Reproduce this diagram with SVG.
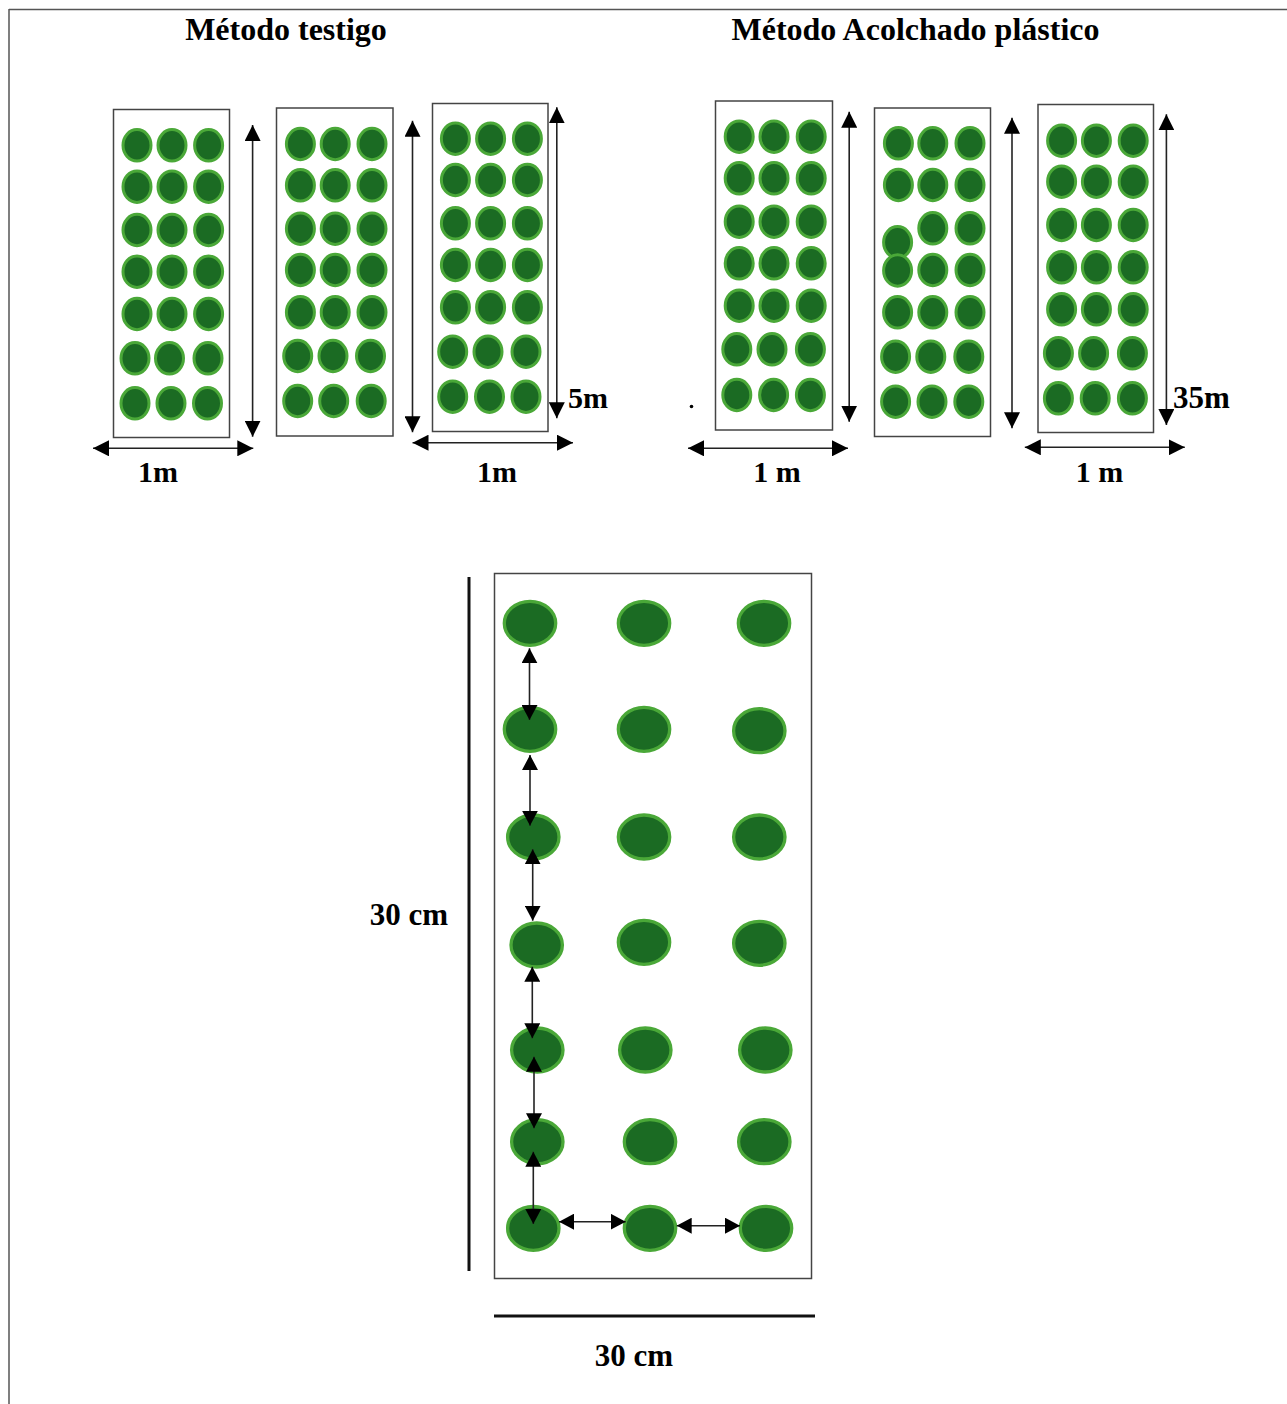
<svg xmlns="http://www.w3.org/2000/svg" xmlns:xlink="http://www.w3.org/1999/xlink" width="1287" height="1404" viewBox="0 0 1287 1404">
<style>
.t{font-family:"Liberation Serif","Times New Roman",serif;font-weight:bold;fill:#000}
.box{fill:#fff;stroke:#444;stroke-width:1.5}
.p{fill:#1b6b23;stroke:#4aa838;stroke-width:3}
.P{fill:#1b6b23;stroke:#4aa838;stroke-width:3.3}
.a{stroke:#222;stroke-width:1.6;fill:none;marker-start:url(#h);marker-end:url(#h)}
.b{stroke:#222;stroke-width:1.6;fill:none;marker-start:url(#hs);marker-end:url(#hs)}
.bar{stroke:#111;stroke-width:3;fill:none}
.frame{stroke:#555;stroke-width:1.5;fill:none}
</style>
<defs>
<marker id="h" viewBox="0 0 16 16" refX="16" refY="8" markerWidth="16" markerHeight="16" markerUnits="userSpaceOnUse" orient="auto-start-reverse"><path d="M0,0 L16,8 L0,16 z" fill="#000"/></marker>
<marker id="hs" viewBox="0 0 15 16" refX="15" refY="8" markerWidth="15" markerHeight="16" markerUnits="userSpaceOnUse" orient="auto-start-reverse"><path d="M0,0 L15,8 L0,16 z" fill="#000"/></marker>
</defs>
<rect width="1287" height="1404" fill="#fff"/>
<g id="frame">
<line class="frame" x1="9" y1="9.5" x2="1287" y2="9.5"/>
<line class="frame" x1="9" y1="9" x2="9" y2="1404"/>
</g>
<g id="titles">
<text class="t" x="286" y="40" font-size="32" text-anchor="middle">Método testigo</text>
<text class="t" x="915.5" y="40" font-size="32" text-anchor="middle">Método Acolchado plástico</text>
</g>
<g id="testigo-1">
<rect class="box" x="113.5" y="109.5" width="116" height="328"/>
<ellipse class="p" cx="137" cy="145.3" rx="14" ry="15.7"/><ellipse class="p" cx="172" cy="145.3" rx="14" ry="15.7"/><ellipse class="p" cx="208.6" cy="145.3" rx="14" ry="15.7"/>
<ellipse class="p" cx="137" cy="186.7" rx="14" ry="15.7"/><ellipse class="p" cx="172" cy="186.7" rx="14" ry="15.7"/><ellipse class="p" cx="208.6" cy="186.7" rx="14" ry="15.7"/>
<ellipse class="p" cx="137" cy="230" rx="14" ry="15.7"/><ellipse class="p" cx="172" cy="230" rx="14" ry="15.7"/><ellipse class="p" cx="208.6" cy="230" rx="14" ry="15.7"/>
<ellipse class="p" cx="137" cy="271.7" rx="14" ry="15.7"/><ellipse class="p" cx="172" cy="271.7" rx="14" ry="15.7"/><ellipse class="p" cx="208.6" cy="271.7" rx="14" ry="15.7"/>
<ellipse class="p" cx="137" cy="314" rx="14" ry="15.7"/><ellipse class="p" cx="172" cy="314" rx="14" ry="15.7"/><ellipse class="p" cx="208.6" cy="314" rx="14" ry="15.7"/>
<ellipse class="p" cx="135" cy="358.3" rx="14" ry="15.7"/><ellipse class="p" cx="169.5" cy="358.3" rx="14" ry="15.7"/><ellipse class="p" cx="208" cy="358.3" rx="14" ry="15.7"/>
<ellipse class="p" cx="135" cy="403.3" rx="14" ry="15.7"/><ellipse class="p" cx="171" cy="403.3" rx="14" ry="15.7"/><ellipse class="p" cx="207.5" cy="403.3" rx="14" ry="15.7"/>
</g>
<g id="testigo-2">
<rect class="box" x="276.5" y="108" width="116.5" height="328"/>
<ellipse class="p" cx="300.4" cy="144" rx="14" ry="15.7"/><ellipse class="p" cx="335.2" cy="144" rx="14" ry="15.7"/><ellipse class="p" cx="372" cy="144" rx="14" ry="15.7"/>
<ellipse class="p" cx="300.4" cy="185.3" rx="14" ry="15.7"/><ellipse class="p" cx="335.2" cy="185.3" rx="14" ry="15.7"/><ellipse class="p" cx="372" cy="185.3" rx="14" ry="15.7"/>
<ellipse class="p" cx="300.4" cy="228.7" rx="14" ry="15.7"/><ellipse class="p" cx="335.2" cy="228.7" rx="14" ry="15.7"/><ellipse class="p" cx="372" cy="228.7" rx="14" ry="15.7"/>
<ellipse class="p" cx="300.4" cy="270" rx="14" ry="15.7"/><ellipse class="p" cx="335.2" cy="270" rx="14" ry="15.7"/><ellipse class="p" cx="372" cy="270" rx="14" ry="15.7"/>
<ellipse class="p" cx="300.4" cy="312.3" rx="14" ry="15.7"/><ellipse class="p" cx="335.2" cy="312.3" rx="14" ry="15.7"/><ellipse class="p" cx="372" cy="312.3" rx="14" ry="15.7"/>
<ellipse class="p" cx="297.7" cy="356" rx="14" ry="15.7"/><ellipse class="p" cx="333" cy="356" rx="14" ry="15.7"/><ellipse class="p" cx="370.5" cy="356" rx="14" ry="15.7"/>
<ellipse class="p" cx="297.7" cy="401" rx="14" ry="15.7"/><ellipse class="p" cx="333.7" cy="401" rx="14" ry="15.7"/><ellipse class="p" cx="371.2" cy="401" rx="14" ry="15.7"/>
</g>
<g id="testigo-3">
<rect class="box" x="432.5" y="103.5" width="115.5" height="328"/>
<ellipse class="p" cx="455.4" cy="138.7" rx="14" ry="15.7"/><ellipse class="p" cx="490.6" cy="138.7" rx="14" ry="15.7"/><ellipse class="p" cx="527.4" cy="138.7" rx="14" ry="15.7"/>
<ellipse class="p" cx="455.4" cy="180" rx="14" ry="15.7"/><ellipse class="p" cx="490.6" cy="180" rx="14" ry="15.7"/><ellipse class="p" cx="527.4" cy="180" rx="14" ry="15.7"/>
<ellipse class="p" cx="455.4" cy="223.3" rx="14" ry="15.7"/><ellipse class="p" cx="490.6" cy="223.3" rx="14" ry="15.7"/><ellipse class="p" cx="527.4" cy="223.3" rx="14" ry="15.7"/>
<ellipse class="p" cx="455.4" cy="265" rx="14" ry="15.7"/><ellipse class="p" cx="490.6" cy="265" rx="14" ry="15.7"/><ellipse class="p" cx="527.4" cy="265" rx="14" ry="15.7"/>
<ellipse class="p" cx="455.4" cy="307.3" rx="14" ry="15.7"/><ellipse class="p" cx="490.6" cy="307.3" rx="14" ry="15.7"/><ellipse class="p" cx="527.4" cy="307.3" rx="14" ry="15.7"/>
<ellipse class="p" cx="452.7" cy="351.7" rx="14" ry="15.7"/><ellipse class="p" cx="488" cy="351.7" rx="14" ry="15.7"/><ellipse class="p" cx="526" cy="351.7" rx="14" ry="15.7"/>
<ellipse class="p" cx="452.7" cy="396.7" rx="14" ry="15.7"/><ellipse class="p" cx="489.5" cy="396.7" rx="14" ry="15.7"/><ellipse class="p" cx="526" cy="396.7" rx="14" ry="15.7"/>
</g>
<g id="acolchado-1">
<rect class="box" x="715.5" y="101" width="117" height="329"/>
<ellipse class="p" cx="739.2" cy="136.7" rx="14" ry="15.7"/><ellipse class="p" cx="774" cy="136.7" rx="14" ry="15.7"/><ellipse class="p" cx="811.2" cy="136.7" rx="14" ry="15.7"/>
<ellipse class="p" cx="739.2" cy="178.3" rx="14" ry="15.7"/><ellipse class="p" cx="774" cy="178.3" rx="14" ry="15.7"/><ellipse class="p" cx="811.2" cy="178.3" rx="14" ry="15.7"/>
<ellipse class="p" cx="739.2" cy="221.7" rx="14" ry="15.7"/><ellipse class="p" cx="774" cy="221.7" rx="14" ry="15.7"/><ellipse class="p" cx="811.2" cy="221.7" rx="14" ry="15.7"/>
<ellipse class="p" cx="739.2" cy="263.3" rx="14" ry="15.7"/><ellipse class="p" cx="774" cy="263.3" rx="14" ry="15.7"/><ellipse class="p" cx="811.2" cy="263.3" rx="14" ry="15.7"/>
<ellipse class="p" cx="739.2" cy="305.7" rx="14" ry="15.7"/><ellipse class="p" cx="774" cy="305.7" rx="14" ry="15.7"/><ellipse class="p" cx="811.2" cy="305.7" rx="14" ry="15.7"/>
<ellipse class="p" cx="736.8" cy="349.3" rx="14" ry="15.7"/><ellipse class="p" cx="772" cy="349.3" rx="14" ry="15.7"/><ellipse class="p" cx="810.4" cy="349.3" rx="14" ry="15.7"/>
<ellipse class="p" cx="736.8" cy="395" rx="14" ry="15.7"/><ellipse class="p" cx="773.6" cy="395" rx="14" ry="15.7"/><ellipse class="p" cx="810.4" cy="395" rx="14" ry="15.7"/>
</g>
<g id="acolchado-2">
<rect class="box" x="874.5" y="108" width="116" height="328.5"/>
<ellipse class="p" cx="898.4" cy="143.3" rx="14" ry="15.7"/><ellipse class="p" cx="932.8" cy="143.3" rx="14" ry="15.7"/><ellipse class="p" cx="970" cy="143.3" rx="14" ry="15.7"/>
<ellipse class="p" cx="898.4" cy="185" rx="14" ry="15.7"/><ellipse class="p" cx="932.8" cy="185" rx="14" ry="15.7"/><ellipse class="p" cx="970" cy="185" rx="14" ry="15.7"/>
<ellipse class="p" cx="932.8" cy="228.3" rx="14" ry="15.7"/><ellipse class="p" cx="970" cy="228.3" rx="14" ry="15.7"/>
<ellipse class="p" cx="897.6" cy="242.3" rx="14" ry="15.7"/>
<ellipse class="p" cx="897.6" cy="270.5" rx="14" ry="15.7"/><ellipse class="p" cx="932.8" cy="270" rx="14" ry="15.7"/><ellipse class="p" cx="970" cy="270" rx="14" ry="15.7"/>
<ellipse class="p" cx="897.6" cy="312.3" rx="14" ry="15.7"/><ellipse class="p" cx="932.8" cy="312.3" rx="14" ry="15.7"/><ellipse class="p" cx="970" cy="312.3" rx="14" ry="15.7"/>
<ellipse class="p" cx="895.6" cy="356.7" rx="14" ry="15.7"/><ellipse class="p" cx="930.8" cy="356.7" rx="14" ry="15.7"/><ellipse class="p" cx="968.8" cy="356.7" rx="14" ry="15.7"/>
<ellipse class="p" cx="895.6" cy="401.7" rx="14" ry="15.7"/><ellipse class="p" cx="932" cy="401.7" rx="14" ry="15.7"/><ellipse class="p" cx="968.8" cy="401.7" rx="14" ry="15.7"/>
</g>
<g id="acolchado-3">
<rect class="box" x="1038" y="104.5" width="115.5" height="328"/>
<ellipse class="p" cx="1061.6" cy="140.7" rx="14" ry="15.7"/><ellipse class="p" cx="1096.4" cy="140.7" rx="14" ry="15.7"/><ellipse class="p" cx="1133.2" cy="140.7" rx="14" ry="15.7"/>
<ellipse class="p" cx="1061.6" cy="181.7" rx="14" ry="15.7"/><ellipse class="p" cx="1096.4" cy="181.7" rx="14" ry="15.7"/><ellipse class="p" cx="1133.2" cy="181.7" rx="14" ry="15.7"/>
<ellipse class="p" cx="1061.6" cy="225" rx="14" ry="15.7"/><ellipse class="p" cx="1096.4" cy="225" rx="14" ry="15.7"/><ellipse class="p" cx="1133.2" cy="225" rx="14" ry="15.7"/>
<ellipse class="p" cx="1061.6" cy="267.3" rx="14" ry="15.7"/><ellipse class="p" cx="1096.4" cy="267.3" rx="14" ry="15.7"/><ellipse class="p" cx="1133.2" cy="267.3" rx="14" ry="15.7"/>
<ellipse class="p" cx="1061.6" cy="309.3" rx="14" ry="15.7"/><ellipse class="p" cx="1096.4" cy="309.3" rx="14" ry="15.7"/><ellipse class="p" cx="1133.2" cy="309.3" rx="14" ry="15.7"/>
<ellipse class="p" cx="1058.4" cy="353.3" rx="14" ry="15.7"/><ellipse class="p" cx="1093.6" cy="353.3" rx="14" ry="15.7"/><ellipse class="p" cx="1132.4" cy="353.3" rx="14" ry="15.7"/>
<ellipse class="p" cx="1058.4" cy="398.3" rx="14" ry="15.7"/><ellipse class="p" cx="1095.2" cy="398.3" rx="14" ry="15.7"/><ellipse class="p" cx="1132.4" cy="398.3" rx="14" ry="15.7"/>
</g>
<g id="detalle">
<rect class="box" x="494.5" y="573.5" width="317" height="705"/>
<ellipse class="P" cx="530" cy="623.3" rx="25.7" ry="22"/><ellipse class="P" cx="644" cy="623.3" rx="25.7" ry="22"/><ellipse class="P" cx="764" cy="623.3" rx="25.7" ry="22"/>
<ellipse class="P" cx="530" cy="729.3" rx="25.7" ry="22"/><ellipse class="P" cx="644" cy="729.3" rx="25.7" ry="22"/><ellipse class="P" cx="759.3" cy="730.7" rx="25.7" ry="22"/>
<ellipse class="P" cx="533.3" cy="837" rx="25.7" ry="22"/><ellipse class="P" cx="644" cy="837" rx="25.7" ry="22"/><ellipse class="P" cx="759.3" cy="837" rx="25.7" ry="22"/>
<ellipse class="P" cx="536.7" cy="945" rx="25.7" ry="22"/><ellipse class="P" cx="644" cy="942.3" rx="25.7" ry="22"/><ellipse class="P" cx="759.3" cy="943.3" rx="25.7" ry="22"/>
<ellipse class="P" cx="537.3" cy="1050" rx="25.7" ry="22"/><ellipse class="P" cx="645.3" cy="1050" rx="25.7" ry="22"/><ellipse class="P" cx="765.3" cy="1050" rx="25.7" ry="22"/>
<ellipse class="P" cx="537.3" cy="1141.7" rx="25.7" ry="22"/><ellipse class="P" cx="650" cy="1141.7" rx="25.7" ry="22"/><ellipse class="P" cx="764.3" cy="1141.7" rx="25.7" ry="22"/>
<ellipse class="P" cx="533.3" cy="1228.3" rx="25.7" ry="22"/><ellipse class="P" cx="650" cy="1228.3" rx="25.7" ry="22"/><ellipse class="P" cx="766" cy="1228.3" rx="25.7" ry="22"/>
</g>
<g id="connectors">
<line class="a" x1="252.6" y1="125" x2="252.6" y2="436.7"/>
<line class="a" x1="412.5" y1="120.7" x2="412.5" y2="432.3"/>
<line class="a" x1="556.8" y1="107.3" x2="556.8" y2="418.3"/>
<line class="a" x1="93" y1="448.3" x2="253.3" y2="448.3"/>
<line class="a" x1="412.5" y1="442.7" x2="573" y2="442.7"/>
<line class="a" x1="849.2" y1="111.7" x2="849.2" y2="421.7"/>
<line class="a" x1="1012" y1="117.7" x2="1012" y2="428.3"/>
<line class="a" x1="1166.4" y1="114.3" x2="1166.4" y2="425"/>
<line class="a" x1="688" y1="448.3" x2="848" y2="448.3"/>
<line class="a" x1="1024.8" y1="447.3" x2="1184.8" y2="447.3"/>
<line class="b" x1="529.5" y1="648.3" x2="529.5" y2="720"/>
<line class="b" x1="530" y1="755" x2="530" y2="825.7"/>
<line class="b" x1="532.7" y1="849.3" x2="532.7" y2="920.7"/>
<line class="b" x1="532.3" y1="966.7" x2="532.3" y2="1038.3"/>
<line class="b" x1="534" y1="1056.7" x2="534" y2="1128.3"/>
<line class="b" x1="533.3" y1="1151.7" x2="533.3" y2="1224"/>
<line class="b" x1="559" y1="1221.7" x2="625.7" y2="1221.7"/>
<line class="b" x1="676.7" y1="1225.7" x2="740" y2="1225.7"/>
<line class="bar" x1="469" y1="577" x2="469" y2="1271"/>
<line class="bar" x1="494" y1="1316" x2="815" y2="1316"/>
</g>
<g id="labels">
<text class="t" x="158" y="482" font-size="30" text-anchor="middle">1m</text>
<text class="t" x="497" y="482" font-size="30" text-anchor="middle">1m</text>
<text class="t" x="568" y="408" font-size="30">5m</text>
<text class="t" x="777" y="482" font-size="30" text-anchor="middle">1 m</text>
<text class="t" x="1099.6" y="482" font-size="30" text-anchor="middle">1 m</text>
<text class="t" x="1173" y="408" font-size="31">35m</text>
<circle cx="691.5" cy="406.5" r="1.8" fill="#000"/>
<text class="t" x="409" y="925" font-size="31" text-anchor="middle">30 cm</text>
<text class="t" x="634" y="1366" font-size="31" text-anchor="middle">30 cm</text>
</g>
</svg>
